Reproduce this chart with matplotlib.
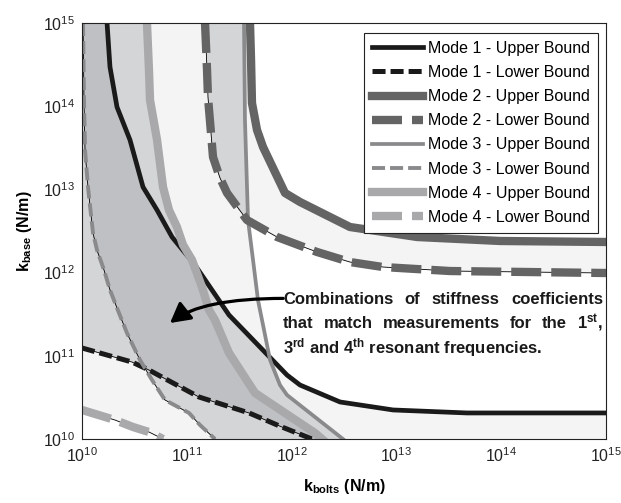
import numpy as np
import matplotlib
matplotlib.use("Agg")
import matplotlib.pyplot as plt

plt.rcParams['font.family'] = ['Liberation Sans', 'DejaVu Sans']
plt.rcParams['mathtext.fontset'] = 'custom'
plt.rcParams['mathtext.rm'] = 'Liberation Sans'
plt.rcParams['mathtext.it'] = 'Liberation Sans:italic'
plt.rcParams['mathtext.bf'] = 'Liberation Sans:bold'
plt.rcParams['lines.scale_dashes'] = False

# ---------------- data (log10 of stiffness in N/m) ----------------
mode1_upper_kbolts = [10.239, 10.267, 10.334, 10.458, 10.582, 10.716, 10.859, 11.078, 11.403,
                      11.956, 12.080, 12.462, 12.968, 13.674, 15.0]
mode1_upper_kbase = [15.0, 14.471, 13.990, 13.594, 13.029, 12.752, 12.428, 12.091, 11.490,
                     10.769, 10.649, 10.445, 10.349, 10.313, 10.313]

mode1_lower_kbolts = [10.0, 10.477, 10.639, 11.116, 11.594, 11.908, 12.195]
mode1_lower_kbase = [11.094, 10.925, 10.829, 10.505, 10.313, 10.144, 10.0]

mode2_upper_kbolts = [11.603, 11.613, 11.622, 11.670, 11.727, 11.937, 12.080, 12.557, 13.197, 13.989, 15.0]
mode2_upper_kbase = [15.0, 14.555, 14.038, 13.714, 13.510, 12.957, 12.849, 12.548, 12.428, 12.380, 12.368]

mode2_lower_kbolts = [11.174, 11.193, 11.202, 11.250, 11.317, 11.384, 11.574, 11.861, 12.242,
                      12.557, 12.872, 13.511, 15.0]
mode2_lower_kbase = [15.0, 14.435, 14.111, 13.389, 13.137, 12.957, 12.632, 12.428, 12.248,
                     12.127, 12.067, 12.019, 11.995]

mode3_upper_kbolts = [11.546, 11.555, 11.584, 11.632, 11.679, 11.737, 11.794, 11.889, 11.956, 12.490]
mode3_upper_kbase = [15.0, 13.834, 12.632, 12.151, 11.671, 11.310, 10.950, 10.649, 10.529, 10.0]

mode3_lower_kbolts = [10.010, 10.019, 10.029, 10.057, 10.105, 10.143, 10.210, 10.267, 10.353,
                      10.429, 10.553, 10.668, 10.792, 11.021, 11.126, 11.269]
mode3_lower_kbase = [15.0, 14.075, 13.474, 13.029, 12.476, 12.272, 12.031, 11.791, 11.514,
                     11.274, 10.950, 10.709, 10.469, 10.313, 10.168, 10.0]

mode4_upper_kbolts = [10.620, 10.639, 10.649, 10.716, 10.773, 10.830, 10.906, 10.964, 11.050,
                      11.145, 11.212, 11.269, 11.403, 11.651, 12.223, 12.290]
mode4_upper_kbase = [15.0, 14.435, 14.075, 13.594, 13.029, 12.752, 12.548, 12.332, 12.151,
                     11.827, 11.550, 11.430, 11.034, 10.553, 10.072, 10.0]

mode4_lower_kbolts = [10.0, 10.315, 10.487, 10.639, 10.773]
mode4_lower_kbase = [10.349, 10.228, 10.144, 10.084, 10.0]

legend_labels = ["Mode 1 - Upper Bound", "Mode 1 - Lower Bound",
                 "Mode 2 - Upper Bound", "Mode 2 - Lower Bound",
                 "Mode 3 - Upper Bound", "Mode 3 - Lower Bound",
                 "Mode 4 - Upper Bound", "Mode 4 - Lower Bound"]

annotation_lines = [
    ["Combinations", "of", "stiffness", "coefficients"],
    ["that", "match", "measurements", "for", "the", r"1$^{\mathbf{st}}$,"],
]
annotation_last = r"3$^{\mathbf{rd}}$ and 4$^{\mathbf{th}}$ resonant frequencies."

x_label = r"$\mathbf{k}_{\mathbf{bolts}}$ (N/m)"
y_label = r"$\mathbf{k}_{\mathbf{base}}$ (N/m)"

# ---------------- styles ----------------
c1, c2, c3, c4 = '#1a1a1a', '#646464', '#8a8a8c', '#a9a9ac'
fill_colors = ['#ffffff', '#f4f4f4', '#d4d5d7', '#bfc0c3', '#a9a9ac']

W, H = 621, 503
fig = plt.figure(figsize=(W / 100, H / 100), dpi=100)
ax = fig.add_axes([82 / W, 1 - 439 / H, 524 / W, 416 / H])
ax.set_xscale('log')
ax.set_yscale('log')
ax.set_xlim(1e10, 1e15)
ax.set_ylim(1e10, 1e15)
ax.set_axisbelow(True)

# ---------------- shaded regions: number of modes matched ----------------
gx = np.linspace(10, 15, 1001)
gy = np.linspace(10, 15, 1001)
LX, LY = np.meshgrid(gx, gy)


def above(cx, cy):
    return LY > np.interp(LX, cx, cy, left=np.inf, right=-np.inf)


curves = [
    (mode1_lower_kbolts, mode1_lower_kbase, mode1_upper_kbolts, mode1_upper_kbase),
    (mode2_lower_kbolts, mode2_lower_kbase, mode2_upper_kbolts, mode2_upper_kbase),
    (mode3_lower_kbolts, mode3_lower_kbase, mode3_upper_kbolts, mode3_upper_kbase),
    (mode4_lower_kbolts, mode4_lower_kbase, mode4_upper_kbolts, mode4_upper_kbase),
]
count = np.zeros_like(LX)
for lx_, ly_, ux_, uy_ in curves:
    band = above(lx_, ly_) & ~above(ux_, uy_)
    count += band

ax.contourf(10 ** LX, 10 ** LY, count, levels=[-0.5, 0.5, 1.5, 2.5, 3.5, 4.5],
            colors=fill_colors, zorder=1, antialiased=False)


def P(v):
    return 10 ** np.asarray(v)


# ---------------- bound lines ----------------
h = {}
h[0], = ax.plot(P(mode1_upper_kbolts), P(mode1_upper_kbase), color=c1, lw=3.4, zorder=3,
                solid_joinstyle='round')
h[2], = ax.plot(P(mode2_upper_kbolts), P(mode2_upper_kbase), color=c2, lw=6.0, zorder=3,
                solid_joinstyle='round')
h[4], = ax.plot(P(mode3_upper_kbolts), P(mode3_upper_kbase), color=c3, lw=2.7, zorder=3,
                solid_joinstyle='round')
h[6], = ax.plot(P(mode4_upper_kbolts), P(mode4_upper_kbase), color=c4, lw=6.0, zorder=3,
                solid_joinstyle='round')

lower_specs = [
    (1, mode1_lower_kbolts, mode1_lower_kbase, c1, 3.6, (9.4, 3.6)),
    (3, mode2_lower_kbolts, mode2_lower_kbase, c2, 6.0, (21.6, 7.2)),
    (5, mode3_lower_kbolts, mode3_lower_kbase, c3, 2.8, (9.4, 3.6)),
    (7, mode4_lower_kbolts, mode4_lower_kbase, c4, 6.0, (21.6, 7.2)),
]
for idx, xs, ys, col, lw, dash in lower_specs:
    ax.plot(P(xs), P(ys), color='black', lw=0.6, zorder=3.5)
    h[idx], = ax.plot(P(xs), P(ys), color=col, lw=lw, linestyle=(0, dash),
                      dash_capstyle='butt', zorder=4)

leg = ax.legend([h[i] for i in range(8)], legend_labels, loc='upper right',
                bbox_to_anchor=((598 - 82) / 524, (439 - 33) / 416), borderaxespad=0,
                fontsize=11.5, frameon=True, fancybox=False, framealpha=1,
                edgecolor='#222222', labelspacing=0.57, handlelength=3.2,
                handletextpad=0.3, borderpad=0.5)
leg.get_frame().set_linewidth(0.8)
leg.set_zorder(6)

# ---------------- axes styling ----------------
for s in ax.spines.values():
    s.set_linewidth(0.8)
    s.set_color('#222222')
    s.set_zorder(5)
ax.tick_params(which='both', direction='in', top=True, right=True, colors='#222222',
               labelcolor='#222222', labelsize=11.5)
ax.tick_params(which='major', length=4, width=0.7, pad=5)
ax.tick_params(which='minor', length=2.2, width=0.6)
ax.set_xticks(P([10, 11, 12, 13, 14, 15]))
ax.set_yticks(P([10, 11, 12, 13, 14, 15]))

ax.set_xlabel(x_label, fontsize=11.5, fontweight='bold')
ax.set_ylabel(y_label, fontsize=11.5, fontweight='bold')
ax.xaxis.set_label_coords(0.5, (439 - 477) / 416)
ax.yaxis.set_label_coords((34 - 82) / 524, 0.5)

# ---------------- annotation ----------------
ax.annotate("", xy=(10 ** 10.84, 10 ** 11.394), xytext=(10 ** 11.92, 10 ** 11.69),
            arrowprops=dict(arrowstyle='-|>,head_length=0.6,head_width=0.33',
                            connectionstyle='angle3,angleA=0,angleB=38',
                            color='black', lw=2.3, shrinkA=0, shrinkB=0,
                            mutation_scale=20),
            zorder=7)

renderer = fig.canvas.get_renderer()
ann_fs = 12
x0_px, x1_px = 283, 603
baselines = [304, 328.5]
for words, yb in zip(annotation_lines, baselines):
    texts = [fig.text(0, 1 - yb / H, w, fontsize=ann_fs, fontweight='bold',
                      color='#1a1a1a', va='baseline', ha='left', zorder=8) for w in words]
    widths = [t.get_window_extent(renderer).width for t in texts]
    gap = ((x1_px - x0_px) - sum(widths)) / (len(words) - 1)
    xpos = x0_px
    for t, wd in zip(texts, widths):
        t.set_x(xpos / W)
        xpos += wd + gap
fig.text(x0_px / W, 1 - 353 / H, annotation_last, fontsize=ann_fs, fontweight='bold',
         color='#1a1a1a', va='baseline', ha='left', zorder=8)

fig.savefig('out.png', dpi=100)
